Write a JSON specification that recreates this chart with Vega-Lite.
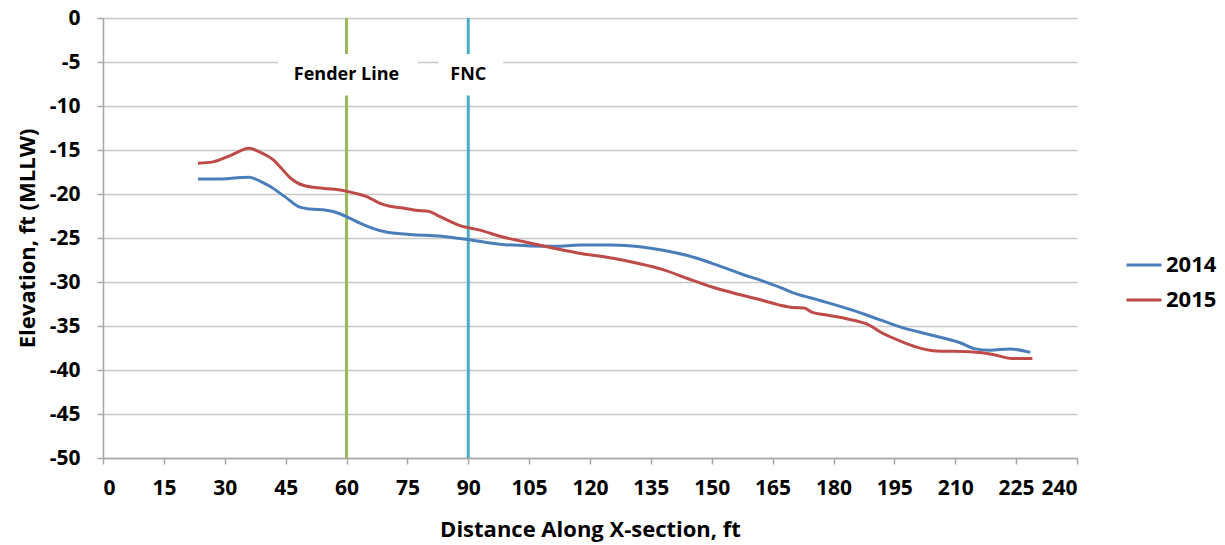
{
  "$schema": "https://vega.github.io/schema/vega-lite/v6.json",
  "width": 974,
  "height": 440,
  "autosize": {"type": "none"},
  "padding": {"left": 103, "top": 18, "right": 148, "bottom": 87},
  "background": "white",
  "config": {
    "view": {"stroke": null},
    "font": "Open Sans",
    "axis": {
      "labelFont": "Open Sans", "labelFontWeight": "bold", "labelFontSize": 21, "labelColor": "#000000",
      "titleFont": "Open Sans", "titleFontWeight": "bold", "titleFontSize": 22, "titleColor": "#000000",
      "domainColor": "#a6a6a6", "domainWidth": 1.5, "tickColor": "#a6a6a6", "tickWidth": 1.5, "tickSize": 6,
      "gridColor": "#c8c8c8", "gridWidth": 1.5
    },
    "legend": {"labelFont": "Open Sans", "labelFontWeight": "bold", "labelFontSize": 22, "labelColor": "#000000"}
  },
  "layer": [
    {
      "data": {"values": [{"x": 60}]},
      "mark": {"type": "rule", "color": "#9bbb59", "strokeWidth": 3},
      "encoding": {"x": {"field": "x", "type": "quantitative"}}
    },
    {
      "data": {"values": [{"x": 90}]},
      "mark": {"type": "rule", "color": "#4bacc6", "strokeWidth": 3},
      "encoding": {"x": {"field": "x", "type": "quantitative"}}
    },
    {
      "data": {"values": [
        {"x": 43.1, "x2": 77.6, "y": -4.1, "y2": -8.8},
        {"x": 82.6, "x2": 98.6, "y": -4.1, "y2": -8.8}
      ]},
      "mark": {"type": "rect", "color": "white"},
      "encoding": {
        "x": {"field": "x", "type": "quantitative"},
        "x2": {"field": "x2"},
        "y": {"field": "y", "type": "quantitative"},
        "y2": {"field": "y2"}
      }
    },
    {
      "data": {"values": [
        {"x": 60, "y": -6.5, "label": "Fender Line"},
        {"x": 90, "y": -6.5, "label": "FNC"}
      ]},
      "mark": {"type": "text", "font": "Open Sans", "fontWeight": "bold", "fontSize": 18, "color": "#000000", "baseline": "middle", "align": "center"},
      "encoding": {
        "x": {"field": "x", "type": "quantitative"},
        "y": {"field": "y", "type": "quantitative"},
        "text": {"field": "label"}
      }
    },
    {
      "data": {"values": [
        {"d": 23.4, "e": -18.3, "s": "2014"},
        {"d": 27.6, "e": -18.3, "s": "2014"},
        {"d": 36.0, "e": -18.1, "s": "2014"},
        {"d": 38.5, "e": -18.5, "s": "2014"},
        {"d": 41.0, "e": -19.1, "s": "2014"},
        {"d": 44.8, "e": -20.3, "s": "2014"},
        {"d": 48.5, "e": -21.5, "s": "2014"},
        {"d": 51.0, "e": -21.7, "s": "2014"},
        {"d": 55.0, "e": -21.85, "s": "2014"},
        {"d": 57.5, "e": -22.1, "s": "2014"},
        {"d": 60.6, "e": -22.7, "s": "2014"},
        {"d": 63.3, "e": -23.3, "s": "2014"},
        {"d": 66.5, "e": -23.9, "s": "2014"},
        {"d": 69.5, "e": -24.3, "s": "2014"},
        {"d": 75.6, "e": -24.6, "s": "2014"},
        {"d": 83.5, "e": -24.8, "s": "2014"},
        {"d": 90.2, "e": -25.2, "s": "2014"},
        {"d": 97.8, "e": -25.7, "s": "2014"},
        {"d": 105.2, "e": -25.9, "s": "2014"},
        {"d": 111.4, "e": -25.95, "s": "2014"},
        {"d": 117.5, "e": -25.8, "s": "2014"},
        {"d": 125.5, "e": -25.8, "s": "2014"},
        {"d": 132.3, "e": -26.0, "s": "2014"},
        {"d": 138.0, "e": -26.4, "s": "2014"},
        {"d": 146.4, "e": -27.3, "s": "2014"},
        {"d": 152.0, "e": -28.2, "s": "2014"},
        {"d": 158.0, "e": -29.2, "s": "2014"},
        {"d": 162.6, "e": -29.9, "s": "2014"},
        {"d": 166.8, "e": -30.6, "s": "2014"},
        {"d": 170.5, "e": -31.3, "s": "2014"},
        {"d": 176.7, "e": -32.1, "s": "2014"},
        {"d": 184.0, "e": -33.1, "s": "2014"},
        {"d": 191.5, "e": -34.3, "s": "2014"},
        {"d": 196.4, "e": -35.1, "s": "2014"},
        {"d": 203.8, "e": -36.0, "s": "2014"},
        {"d": 211.2, "e": -36.9, "s": "2014"},
        {"d": 215.0, "e": -37.6, "s": "2014"},
        {"d": 218.6, "e": -37.75, "s": "2014"},
        {"d": 223.5, "e": -37.6, "s": "2014"},
        {"d": 228.5, "e": -38.0, "s": "2014"},
        {"d": 23.4, "e": -16.5, "s": "2015"},
        {"d": 27.1, "e": -16.35, "s": "2015"},
        {"d": 31.5, "e": -15.6, "s": "2015"},
        {"d": 36.0, "e": -14.8, "s": "2015"},
        {"d": 38.5, "e": -15.2, "s": "2015"},
        {"d": 41.9, "e": -16.1, "s": "2015"},
        {"d": 44.0, "e": -17.1, "s": "2015"},
        {"d": 46.0, "e": -18.1, "s": "2015"},
        {"d": 49.3, "e": -19.0, "s": "2015"},
        {"d": 54.2, "e": -19.35, "s": "2015"},
        {"d": 59.1, "e": -19.6, "s": "2015"},
        {"d": 62.0, "e": -19.9, "s": "2015"},
        {"d": 65.0, "e": -20.3, "s": "2015"},
        {"d": 68.0, "e": -21.0, "s": "2015"},
        {"d": 70.7, "e": -21.4, "s": "2015"},
        {"d": 73.9, "e": -21.6, "s": "2015"},
        {"d": 77.0, "e": -21.85, "s": "2015"},
        {"d": 80.5, "e": -22.0, "s": "2015"},
        {"d": 82.3, "e": -22.4, "s": "2015"},
        {"d": 85.5, "e": -23.1, "s": "2015"},
        {"d": 88.0, "e": -23.6, "s": "2015"},
        {"d": 92.9, "e": -24.1, "s": "2015"},
        {"d": 97.8, "e": -24.8, "s": "2015"},
        {"d": 103.5, "e": -25.4, "s": "2015"},
        {"d": 109.4, "e": -26.0, "s": "2015"},
        {"d": 117.0, "e": -26.7, "s": "2015"},
        {"d": 125.7, "e": -27.3, "s": "2015"},
        {"d": 132.0, "e": -27.9, "s": "2015"},
        {"d": 138.0, "e": -28.6, "s": "2015"},
        {"d": 144.0, "e": -29.6, "s": "2015"},
        {"d": 150.3, "e": -30.6, "s": "2015"},
        {"d": 156.5, "e": -31.4, "s": "2015"},
        {"d": 162.6, "e": -32.1, "s": "2015"},
        {"d": 166.5, "e": -32.6, "s": "2015"},
        {"d": 170.0, "e": -32.9, "s": "2015"},
        {"d": 172.8, "e": -32.95, "s": "2015"},
        {"d": 174.5, "e": -33.4, "s": "2015"},
        {"d": 179.0, "e": -33.8, "s": "2015"},
        {"d": 183.5, "e": -34.2, "s": "2015"},
        {"d": 188.3, "e": -34.8, "s": "2015"},
        {"d": 192.0, "e": -35.8, "s": "2015"},
        {"d": 196.4, "e": -36.7, "s": "2015"},
        {"d": 200.5, "e": -37.4, "s": "2015"},
        {"d": 204.5, "e": -37.8, "s": "2015"},
        {"d": 214.4, "e": -37.95, "s": "2015"},
        {"d": 219.0, "e": -38.2, "s": "2015"},
        {"d": 224.0, "e": -38.7, "s": "2015"},
        {"d": 229.0, "e": -38.7, "s": "2015"}
      ]},
      "mark": {"type": "line", "strokeWidth": 3, "interpolate": "monotone"},
      "encoding": {
        "x": {
          "field": "d", "type": "quantitative",
          "scale": {"domain": [0, 240], "nice": false, "zero": false},
          "axis": {"values": [0, 15, 30, 45, 60, 75, 90, 105, 120, 135, 150, 165, 180, 195, 210, 225, 240], "grid": false, "title": "Distance Along X-section, ft", "titlePadding": 21, "labelPadding": 13}
        },
        "y": {
          "field": "e", "type": "quantitative",
          "scale": {"domain": [-50, 0], "nice": false, "zero": false},
          "axis": {"values": [0, -5, -10, -15, -20, -25, -30, -35, -40, -45, -50], "labelExpr": "'' + datum.value", "grid": true, "title": "Elevation, ft (MLLW)", "titlePadding": 10, "labelPadding": 17}
        },
        "color": {
          "field": "s", "type": "nominal",
          "scale": {"domain": ["2014", "2015"], "range": ["#4a7ebb", "#be4b48"]},
          "legend": {"title": null, "orient": "none", "legendX": 1022, "legendY": 228, "symbolType": "stroke", "symbolSize": 1225, "symbolStrokeWidth": 3, "rowPadding": 5, "labelOffset": 3}
        }
      }
    }
  ]
}
